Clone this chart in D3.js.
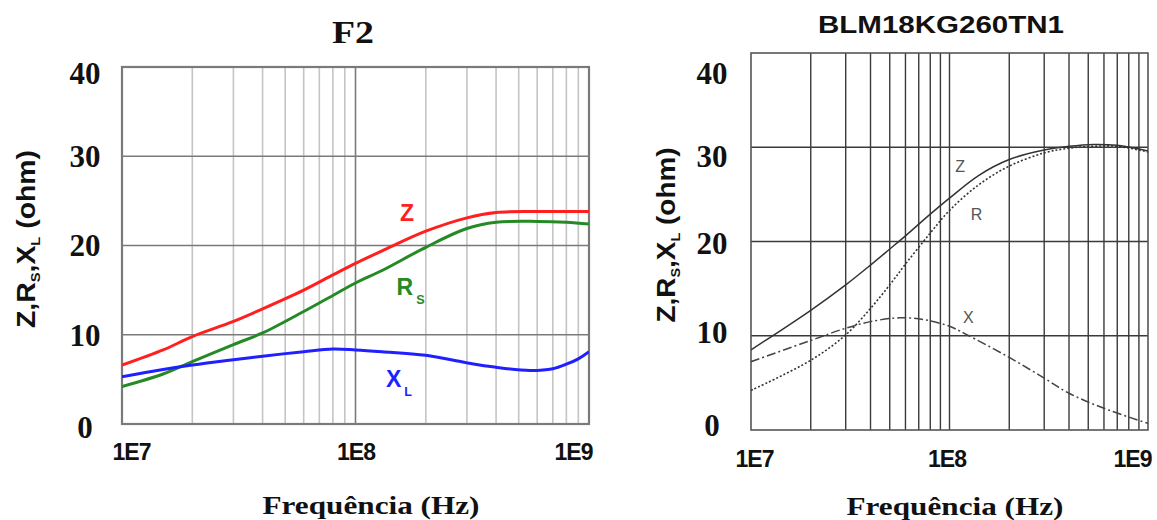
<!DOCTYPE html>
<html><head><meta charset="utf-8">
<script src="https://cdn.jsdelivr.net/npm/d3@7/dist/d3.min.js"></script>
<style>body{margin:0;background:#fff}svg{display:block}</style>
</head><body>
<svg id="c" width="1157" height="520"></svg>
<script>
// ---------- data ----------
const xTickValues = [1e7, 1e8, 1e9];
const xTickLabels = ["1E7", "1E8", "1E9"];
const yTickValues = [0, 10, 20, 30, 40];

// Left panel (F2)
const f2Freq = [1e7, 1.5e7, 2e7, 3e7, 4e7, 6e7, 8e7, 1e8, 1.3e8, 2e8, 3e8, 4e8, 6e8, 8e8, 1e9];
const f2Z    = [6.6, 8.3, 9.8, 11.5, 12.9, 15.0, 16.7, 18.0, 19.4, 21.6, 23.1, 23.7, 23.8, 23.8, 23.8];
const f2Rs   = [4.2, 5.6, 7.0, 8.9, 10.2, 12.6, 14.4, 15.8, 17.2, 19.8, 21.9, 22.6, 22.7, 22.6, 22.4];
const f2XlFreq = [1e7, 1.5e7, 2e7, 3e7, 4e7, 6e7, 8e7, 1e8, 1.3e8, 2e8, 3e8, 4e8, 5.6e8, 7e8, 8e8, 9e8, 1e9];
const f2Xl     = [5.3, 6.1, 6.6, 7.2, 7.6, 8.1, 8.4, 8.3, 8.1, 7.7, 6.85, 6.35, 6.0, 6.2, 6.7, 7.3, 8.1];

// Right panel (BLM18KG260TN1)
const blmFreq = [1e7, 2e7, 3e7, 4e7, 5e7, 6e7, 8e7, 1e8, 1.4e8, 2e8, 3e8, 4e8, 5.3e8, 7e8, 1e9];
const blmZ    = [8.5, 12.7, 15.4, 17.5, 19.2, 20.6, 22.9, 24.6, 27.0, 28.7, 29.7, 30.1, 30.3, 30.2, 29.6];
const blmR    = [4.2, 7.4, 10.1, 12.9, 15.4, 17.6, 20.9, 23.3, 26.0, 28.0, 29.4, 29.9, 30.1, 30.1, 29.5];
const blmXFreq = [1e7, 2e7, 3e7, 4e7, 5.6e7, 7.5e7, 1e8, 1.2e8, 2e8, 3e8, 4e8, 6e8, 1e9];
const blmX     = [7.25, 9.5, 10.8, 11.5, 11.9, 11.7, 11.0, 10.2, 7.7, 5.5, 3.9, 2.3, 0.7];

// ---------- drawing ----------
const svg = d3.select("#c");
const SERIF = "'Liberation Serif','Times New Roman',serif";
const SANS = "'Liberation Sans',Arial,sans-serif";

function panel(o) {
  const x = d3.scaleLog().domain([1e7, 1e9]).range([o.left, o.right]);
  const y = d3.scaleLinear().domain([0, 40]).range([o.bottom, o.top]);
  const g = svg.append("g");
  const clipId = "clip" + o.id;
  svg.append("clipPath").attr("id", clipId).append("rect")
    .attr("x", o.left).attr("y", o.top - 2).attr("width", o.right - o.left).attr("height", o.bottom - o.top + 4);

  g.selectAll(".vg").data(x.ticks().filter(t => t > 1e7 && t < 1e9)).join("line")
    .attr("x1", d => x(d)).attr("x2", d => x(d)).attr("y1", o.top).attr("y2", o.bottom)
    .attr("stroke", d => (Math.abs(Math.log10(d) - Math.round(Math.log10(d))) < 1e-9) ? o.major : o.minor)
    .attr("stroke-width", o.gw);
  g.selectAll(".hg").data(yTickValues.filter(v => v > 0 && v < 40)).join("line")
    .attr("x1", o.left).attr("x2", o.right).attr("y1", d => y(d)).attr("y2", d => y(d))
    .attr("stroke", o.major).attr("stroke-width", o.gw);
  g.append("rect").attr("x", o.left).attr("y", o.top)
    .attr("width", o.right - o.left).attr("height", o.bottom - o.top)
    .attr("fill", "none").attr("stroke", o.frame).attr("stroke-width", o.fw);

  g.selectAll(".yl").data(yTickValues).join("text")
    .attr("x", o.yLabelX).attr("y", (d, i) => y(d) + o.yOff[i])
    .attr("dy", "0.35em").attr("text-anchor", "middle")
    .attr("font-family", SERIF).attr("font-weight", "bold").attr("font-size", 31)
    .attr("fill", "#111").text(d => d);

  const ax = svg.append("g").attr("transform", `translate(0,${o.xLabelY})`)
    .call(d3.axisBottom(x).tickValues(xTickValues).tickFormat((d, i) => xTickLabels[i]).tickSize(0).tickPadding(0));
  ax.select(".domain").remove();
  ax.selectAll("text").attr("font-family", SANS).attr("font-weight", "bold").attr("font-size", 23)
    .attr("fill", "#111").attr("y", 0).attr("dy", 0).attr("letter-spacing", "-1")
    .attr("dx", (d, i) => o.xdx[i]);

  svg.append("text").attr("x", o.xtX).attr("y", o.xtY).attr("text-anchor", "middle")
    .attr("font-family", SERIF).attr("font-weight", "bold").attr("font-size", 26)
    .attr("textLength", 217).attr("lengthAdjust", "spacingAndGlyphs")
    .attr("fill", "#111").text("Frequência (Hz)");

  const yt = svg.append("text")
    .attr("transform", `translate(${o.ytX},${o.ytY}) rotate(-90)`)
    .attr("text-anchor", "middle").attr("font-family", SANS).attr("font-weight", "bold")
    .attr("font-size", 25).attr("fill", "#111").attr("textLength", o.ytLen).attr("lengthAdjust", "spacingAndGlyphs");
  yt.append("tspan").text("Z,R");
  yt.append("tspan").attr("font-size", 13).attr("dy", 5).text("S");
  yt.append("tspan").attr("dy", -5).text(",X");
  yt.append("tspan").attr("font-size", 13).attr("dy", 5).text("L");
  yt.append("tspan").attr("dy", -5).text(" (ohm)");

  return {x, y, clipId};
}

function series(P, fx, vy, style) {
  const line = d3.line().x((d, i) => P.x(fx[i])).y(d => P.y(d)).curve(d3.curveCatmullRom.alpha(0.5));
  const p = svg.append("path").datum(vy).attr("d", line).attr("fill", "none")
    .attr("clip-path", `url(#${P.clipId})`);
  Object.entries(style).forEach(([k, v]) => p.attr(k, v));
}

function lbl(x, y, main, sub, color, size, weight) {
  const t = svg.append("text").attr("x", x).attr("y", y).attr("font-family", SANS)
    .attr("font-weight", weight).attr("font-size", size).attr("fill", color);
  t.append("tspan").text(main);
  if (sub) t.append("tspan").attr("font-size", size * 0.55).attr("dx", 3).attr("dy", size * 0.4).text(sub);
}

// Left panel
const L = panel({id: "L", left: 122, right: 589, top: 67, bottom: 424,
  minor: "#c4c4c4", major: "#7a7a7a", frame: "#7a7a7a", gw: 1.6, fw: 2.2,
  yLabelX: 85, yOff: [3, 0, 0, 0, 6], xLabelY: 460, xdx: [9, 0, -16],
  xtX: 371, xtY: 514, ytX: 35, ytY: 239, ytLen: 178});

series(L, f2Freq, f2Rs, {stroke: "#258a25", "stroke-width": 3});
series(L, f2Freq, f2Z, {stroke: "#ff1f1f", "stroke-width": 3});
series(L, f2XlFreq, f2Xl, {stroke: "#1f1fff", "stroke-width": 3});

lbl(L.x(1.55e8), L.y(22.7), "Z", null, "#ff1f1f", 23, "bold");
lbl(L.x(1.5e8), L.y(14.5), "R", "S", "#258a25", 23, "bold");
lbl(L.x(1.35e8), L.y(4.2), "X", "L", "#1f1fff", 23, "bold");

// Right panel
const R = panel({id: "R", left: 751, right: 1148, top: 53, bottom: 430,
  minor: "#3a3a3a", major: "#3a3a3a", frame: "#555", gw: 1.4, fw: 1.6,
  yLabelX: 712, yOff: [-5, -4, 2, 9, 20], xLabelY: 467, xdx: [3, -3, -16],
  xtX: 955, xtY: 515, ytX: 675, ytY: 235, ytLen: 175});

series(R, blmFreq, blmZ, {stroke: "#333", "stroke-width": 1.5});
series(R, blmFreq, blmR, {stroke: "#333", "stroke-width": 1.6, "stroke-dasharray": "2,2"});
series(R, blmXFreq, blmX, {stroke: "#444", "stroke-width": 1.5, "stroke-dasharray": "9,3,2,3"});

lbl(R.x(1.07e8), R.y(27.4), "Z", null, "#555", 16, "normal");
lbl(R.x(1.28e8), R.y(22.3), "R", null, "#555", 16, "normal");
lbl(R.x(1.17e8), R.y(11.35), "X", null, "#555", 16, "normal");

// titles
svg.append("text").attr("x", 353).attr("y", 43).attr("text-anchor", "middle")
  .attr("font-family", SERIF).attr("font-weight", "bold").attr("font-size", 31)
  .attr("textLength", 42).attr("lengthAdjust", "spacingAndGlyphs").attr("fill", "#111").text("F2");
svg.append("text").attr("x", 941).attr("y", 33).attr("text-anchor", "middle")
  .attr("font-family", SANS).attr("font-weight", "bold").attr("font-size", 24)
  .attr("textLength", 246).attr("lengthAdjust", "spacingAndGlyphs").attr("fill", "#111").text("BLM18KG260TN1");
</script>
</body></html>
